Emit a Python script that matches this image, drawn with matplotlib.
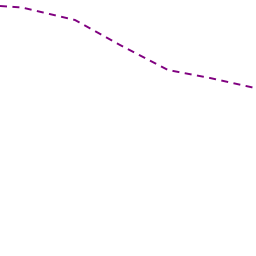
import matplotlib
matplotlib.use('Agg')
import matplotlib.pyplot as plt

# values (y grows downward, like the image)
x = [0, 22, 75, 120, 168, 210, 255]
y = [6, 7.5, 20, 45, 70, 78, 88]

fig = plt.figure(figsize=(2.56, 2.56), dpi=100)
ax = fig.add_axes([0, 0, 1, 1])
ax.plot(x, y, color='#800080', lw=1.4, linestyle=(0, (3.6, 2.8)))
ax.set_xlim(0, 256)
ax.set_ylim(256, 0)
ax.axis('off')

fig.savefig('out.png', dpi=100)
